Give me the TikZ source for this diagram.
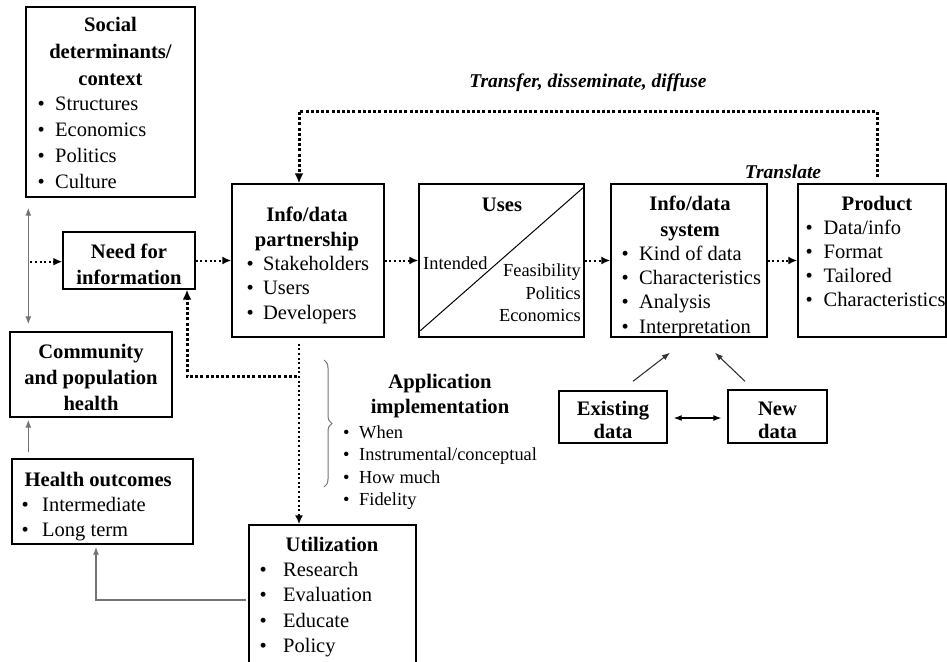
\documentclass[tikz,border=0pt]{standalone}
\usepackage{fontspec}
\setmainfont{Liberation Serif}
\usetikzlibrary{arrows.meta,decorations.pathreplacing,calc}
\newcommand\bitem[2]{\makebox[#1][l]{\textbullet}#2}
\begin{document}
\begin{tikzpicture}[x=1pt,y=-1pt,
 box/.style={draw, line width=1.4pt, inner sep=0pt},
 ttl/.style={font=\fontsize{20.6}{24}\selectfont\bfseries, anchor=base, inner sep=0pt},
 itm/.style={font=\fontsize{20.5}{24}\selectfont, anchor=base west, inner sep=0pt},
 sml/.style={font=\fontsize{18.4}{22}\selectfont, inner sep=0pt},
 lbl/.style={font=\fontsize{19.5}{23}\selectfont\bfseries\itshape, anchor=base, inner sep=0pt},
 dotarrow/.style={line width=2pt, dash pattern=on 2pt off 2.6pt, -{Latex[length=9pt,width=8pt]}},
 thickdot/.style={line width=3pt, dash pattern=on 3pt off 2.2pt},
 grayline/.style={draw=black!55, line width=1.2pt},
 tip/.style={-{Latex[length=8pt,width=6pt]}},
 ]
\useasboundingbox (0,0) rectangle (947,661);
% boxes
\node[box, minimum width=169pt, minimum height=190pt] (soc) at (110.5,102) {};
\node[box, minimum width=132pt, minimum height=57pt] (need) at (129,260.5) {};
\node[box, minimum width=162pt, minimum height=85pt] (comm) at (91,374.5) {};
\node[box, minimum width=181pt, minimum height=85pt] (health) at (102.5,501.5) {};
\node[box, minimum width=167pt, minimum height=150pt] (util) at (332.5,600) {};
\node[box, minimum width=152pt, minimum height=153pt] (part) at (308,260.5) {};
\node[box, minimum width=165pt, minimum height=153pt] (uses) at (501.5,260.5) {};
\node[box, minimum width=156pt, minimum height=153pt] (sys) at (689,260.5) {};
\node[box, minimum width=148pt, minimum height=153pt] (prod) at (872,260.5) {};
\node[box, minimum width=108pt, minimum height=52pt] (exist) at (613,417) {};
\node[box, minimum width=99pt, minimum height=53pt] (new) at (777.5,416.5) {};
% social
\node[ttl] (soc-t1) at (110.5,32) {Social};
\node[ttl] (soc-t2) at (110.5,59) {determinants/};
\node[ttl] (soc-t3) at (110.5,85) {context};
\foreach \t [count=\i from 0] in {Structures,Economics,Politics,Culture}
  \node[itm] (soc-b\i) at (37.5,110+26*\i) {\bitem{17.5pt}{\t}};
% need
\node[ttl] (need-t1) at (129,258) {Need for};
\node[ttl] (need-t2) at (129,284) {information};
% community
\node[ttl] (comm-t1) at (91,358) {Community};
\node[ttl] (comm-t2) at (91,384) {and population};
\node[ttl] (comm-t3) at (91,410) {health};
% health
\node[ttl, anchor=base west] (health-t) at (24.5,486) {Health outcomes};
\foreach \t [count=\i from 0] in {Intermediate,Long term}
  \node[itm] (health-b\i) at (21.5,511+25*\i) {\bitem{20.5pt}{\t}};
% partnership
\node[ttl] (part-t1) at (307,221) {Info/data};
\node[ttl] (part-t2) at (307,246) {partnership};
\foreach \t [count=\i from 0] in {Stakeholders,Users,Developers}
  \node[itm] (part-b\i) at (246.5,270+24.5*\i) {\bitem{16.5pt}{\t}};
% uses
\node[ttl] (uses-t) at (502,211) {Uses};
\draw[line width=1pt] ($(uses.south west)+(2,-7)$) -- ($(uses.north east)+(0,3)$);
\node[sml, anchor=base west] (uses-i) at (423,269) {Intended};
\node[sml, anchor=base east] (uses-f) at (581,276) {Feasibility};
\node[sml, anchor=base east] (uses-p) at (581,299) {Politics};
\node[sml, anchor=base east] (uses-e) at (581,321) {Economics};
% system
\node[ttl] (sys-t1) at (690,210) {Info/data};
\node[ttl] (sys-t2) at (690,236) {system};
\foreach \t [count=\i from 0] in {Kind of data,Characteristics,Analysis,Interpretation}
  \node[itm] (sys-b\i) at (621.5,260+24.4*\i) {\bitem{17.5pt}{\t}};
% product
\node[ttl] (prod-t) at (877,210) {Product};
\foreach \t [count=\i from 0] in {Data/info,Format,Tailored,Characteristics}
  \node[itm] (prod-b\i) at (805.5,234+24*\i) {\bitem{18pt}{\t}};
% utilization
\node[ttl] (util-t) at (332,551) {Utilization};
\foreach \t [count=\i from 0] in {Research,Evaluation,Educate,Policy}
  \node[itm] (util-b\i) at (259.5,576+25.5*\i) {\bitem{23.5pt}{\t}};
% application
\node[ttl] (app-t1) at (440,388) {Application};
\node[ttl] (app-t2) at (440,413) {implementation};
\foreach \t [count=\i from 0] in {When,Instrumental/conceptual,How much,Fidelity}
  \node[sml, anchor=base west] (app-b\i) at (343,438.5+22.3*\i) {\bitem{16pt}{\t}};
% existing / new
\node[ttl] (exist-t1) at (613,415) {Existing};
\node[ttl] (exist-t2) at (613,438) {data};
\node[ttl] (new-t1) at (777.5,415) {New};
\node[ttl] (new-t2) at (777.5,438) {data};
% labels
\node[lbl] (lbl-transfer) at (588,88) {Transfer, disseminate, diffuse};
\node[lbl] (lbl-translate) at (783,178) {Translate};
% connectors
\draw[grayline, {Latex[length=8pt,width=6pt]}-{Latex[length=8pt,width=6pt]}] ($(soc.south west)+(3,10)$) coordinate (vtop) -- ($(comm.north west)+(19,-7)$);
\coordinate (vmid) at ($(vtop)+(2,54)$);
\draw[dotarrow] (vmid) -- (vmid -| need.west);
\draw[dotarrow] (need.east) -- (need.east -| part.west);
\draw[dotarrow] (part.east) -- (uses.west);
\draw[dotarrow] (uses.east) -- (sys.west);
\draw[dotarrow] (sys.east) -- (prod.west);
\draw[thickdot, -{Latex[length=10pt,width=9pt]}] ($(prod.north)+(5,-6)$) -- ++(0,-66) -| ($(part.north)+(-9,0)$);
\draw[dotarrow] ($(part.south)+(-9,6)$) coordinate (pd) -- (pd |- util.north);
\coordinate (branch) at ($(pd)+(-2,33)$);
\draw[thickdot, -{Latex[length=10pt,width=9pt]}] (branch) -| ($(need.south)+(58,0)$);
\draw[grayline, tip] ($(util.west)+(-2,0)$) -| ($(health.south)+(-6.5,2)$);
\draw[grayline, tip] ($(health.north west)+(17,-6)$) -- ($(comm.south west)+(19,2)$);
\draw[line width=1.1pt, draw=black!80, tip] ($(exist.north)+(20,-9)$) -- ($(sys.south)+(-19,15)$);
\draw[line width=1.1pt, draw=black!80, tip] ($(new.north)+(-32.5,-8)$) -- ($(sys.south)+(26,15)$);
\draw[line width=1.1pt, {Latex[length=8pt,width=6pt]}-{Latex[length=8pt,width=6pt]}] ($(exist.east)+(6,1)$) -- ($(new.west)+(-6,1.5)$);
\draw[grayline, line width=1pt, decorate, decoration={brace, amplitude=8pt}] (324,360) -- (324,487);
\end{tikzpicture}
\end{document}
